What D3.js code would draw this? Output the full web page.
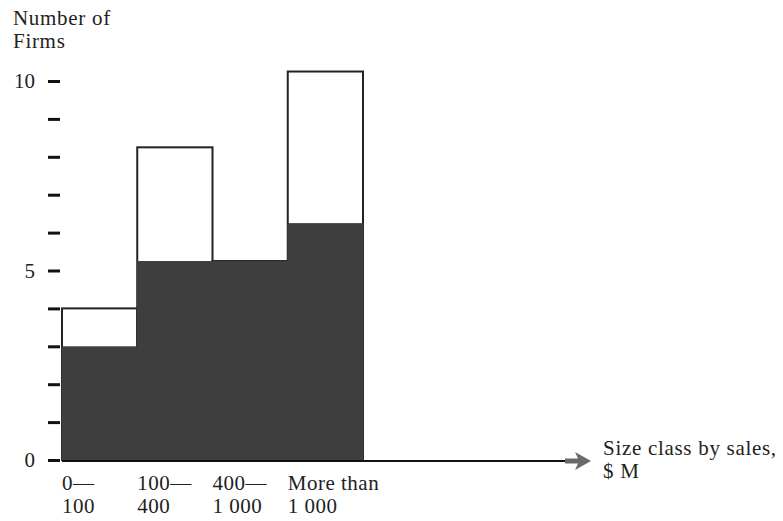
<!DOCTYPE html>
<html lang="en">
<head>
    <meta charset="UTF-8">
    <title>Number of Firms by size class</title>
    <script src="https://cdn.jsdelivr.net/npm/d3@7"></script>
    <style>
        body { margin: 0; background: #fff; }
        text { font-family: "Liberation Serif", "Times New Roman", serif; fill: #222; }
    </style>
</head>
<body>
    <script>
        // data
        var categories = ["0—100", "100—400", "400—1 000", "More than 1 000"];
        var labelTop = ["0—", "100—", "400—", "More than"];
        var labelBottom = ["100", "400", "1 000", "1 000"];
        var totalFirms = [4, 8.25, 5.25, 10.25];
        var darkFirms = [3, 5.25, 5.25, 6.25];
        var yTicks = [0, 1, 2, 3, 4, 5, 6, 7, 8, 9, 10];
        var yLabels = [0, 5, 10];

        var W = 783, H = 521;
        var fontSize = 21;

        var svg = d3.select("body")
            .append("svg")
            .attr("width", W)
            .attr("height", H);

        var x = d3.scaleBand()
            .domain(categories)
            .range([62, 363])
            .padding(0);

        var y = d3.scaleLinear()
            .domain([0, 10])
            .range([460, 81]);

        // outline bars (total)
        svg.selectAll("rect.total")
            .data(categories)
            .enter()
            .append("rect")
            .attr("class", "total")
            .attr("x", d => x(d))
            .attr("width", x.bandwidth())
            .attr("y", (d, i) => y(totalFirms[i]))
            .attr("height", (d, i) => y(0) - y(totalFirms[i]))
            .attr("fill", "#fff")
            .attr("stroke", "#222")
            .attr("stroke-width", 2);

        // filled bars
        svg.selectAll("rect.dark")
            .data(categories)
            .enter()
            .append("rect")
            .attr("class", "dark")
            .attr("x", d => x(d) - 0.5)
            .attr("width", x.bandwidth() + 1)
            .attr("y", (d, i) => y(darkFirms[i]))
            .attr("height", (d, i) => y(0) - y(darkFirms[i]) + 1)
            .attr("fill", "#3e3e3e");

        // y axis: ticks only, no domain line
        var yaxis = d3.axisLeft(y)
            .tickValues(yTicks)
            .tickSize(12)
            .tickPadding(13)
            .tickFormat(d => yLabels.indexOf(d) >= 0 ? d : "");

        var gy = svg.append("g")
            .attr("transform", "translate(60,0)")
            .call(yaxis);
        gy.select(".domain").remove();
        gy.selectAll(".tick line")
            .attr("stroke", "#111")
            .attr("stroke-width", 3);
        gy.selectAll(".tick text")
            .attr("font-size", fontSize)
            .style("font-family", "'Liberation Serif', serif")
            .attr("fill", "#222");

        // x axis line with arrow
        var axisEnd = 567;
        svg.append("line")
            .attr("x1", x.range()[0])
            .attr("x2", axisEnd)
            .attr("y1", y(0) + 1)
            .attr("y2", y(0) + 1)
            .attr("stroke", "#111")
            .attr("stroke-width", 2);

        var ay = y(0) + 1;
        svg.append("path")
            .attr("d", "M" + (axisEnd - 2) + "," + (ay - 2.5) +
                " L" + (axisEnd + 11) + "," + (ay - 2.5) +
                " L" + (axisEnd + 8) + "," + (ay - 9) +
                " L" + (axisEnd + 24) + "," + ay +
                " L" + (axisEnd + 8) + "," + (ay + 9) +
                " L" + (axisEnd + 11) + "," + (ay + 2.5) +
                " L" + (axisEnd - 2) + "," + (ay + 2.5) + " Z")
            .attr("fill", "#6a6a6a");

        // x category labels, two lines each
        svg.selectAll("text.cat1")
            .data(labelTop)
            .enter()
            .append("text")
            .attr("class", "cat1")
            .attr("x", (d, i) => x(categories[i]))
            .attr("y", 490)
            .attr("font-size", fontSize)
            .style("letter-spacing", "0.5px")
            .text(d => d);

        svg.selectAll("text.cat2")
            .data(labelBottom)
            .enter()
            .append("text")
            .attr("class", "cat2")
            .attr("x", (d, i) => x(categories[i]))
            .attr("y", 513)
            .attr("font-size", fontSize)
            .style("letter-spacing", "0.5px")
            .text(d => d);

        // axis titles
        var yTitle = svg.append("text")
            .attr("x", 13)
            .attr("font-size", fontSize)
            .style("letter-spacing", "0.7px");
        yTitle.append("tspan").attr("x", 13).attr("y", 25).text("Number of");
        yTitle.append("tspan").attr("x", 13).attr("y", 48).text("Firms");

        var xTitle = svg.append("text")
            .attr("font-size", fontSize)
            .style("letter-spacing", "0.7px");
        xTitle.append("tspan").attr("x", 603).attr("y", 455).text("Size class by sales,");
        xTitle.append("tspan").attr("x", 603).attr("y", 478).text("$ M");
    </script>
</body>
</html>
